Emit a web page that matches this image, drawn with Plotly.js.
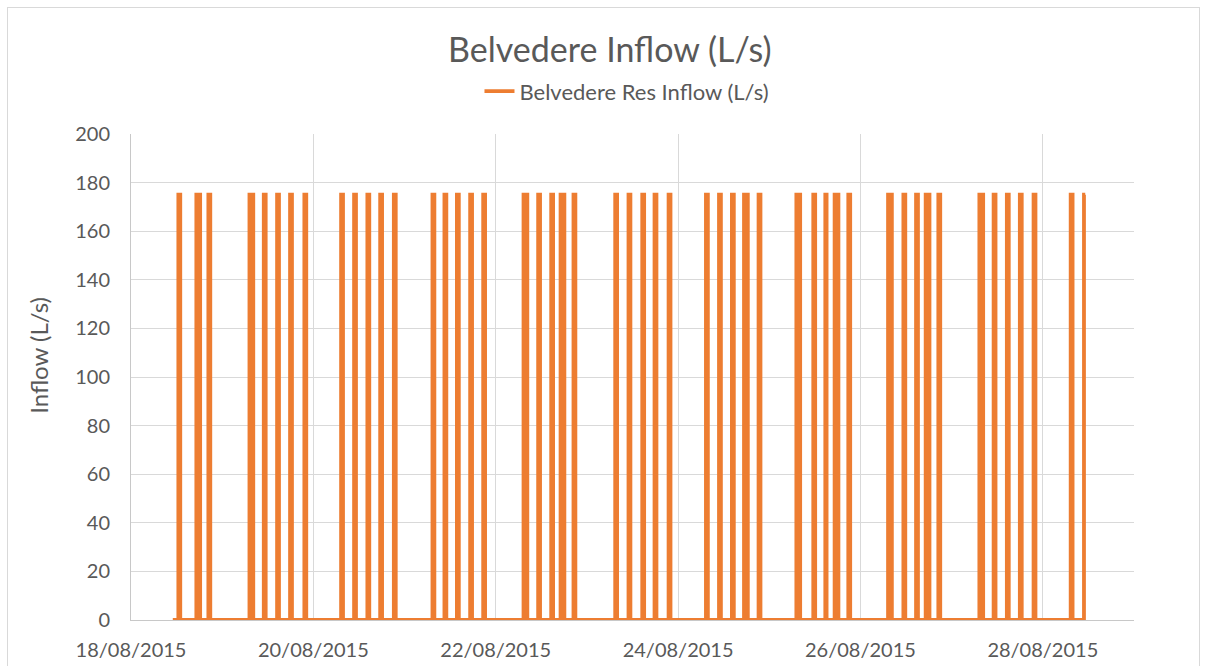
<!DOCTYPE html>
<html>
<head>
<meta charset="utf-8">
<script src="https://cdn.plot.ly/plotly-3.0.1.min.js"></script>
<style>
  html, body { margin: 0; padding: 0; background: #ffffff; overflow: hidden; }
  #chart { width: 1210px; height: 666px; }
  #frame { position: absolute; left: 7px; top: 7px; width: 1193px; height: 720px;
           border: 1px solid #d9d9d9; pointer-events: none; box-sizing: border-box; }
</style>
</head>
<body>
<div id="chart"></div>
<div id="frame"></div>
<script>
// Pump run periods feeding Belvedere reservoir (start / stop times)
const pumpOn = [
  '2015-08-18 12:28', '2015-08-18 17:12', '2015-08-18 20:22',
  '2015-08-19 07:11', '2015-08-19 10:57', '2015-08-19 14:27', '2015-08-19 17:52', '2015-08-19 21:38',
  '2015-08-20 07:18', '2015-08-20 10:43', '2015-08-20 14:13', '2015-08-20 17:35', '2015-08-20 21:11',
  '2015-08-21 07:21', '2015-08-21 10:30', '2015-08-21 13:47', '2015-08-21 17:16', '2015-08-21 20:42',
  '2015-08-22 07:19', '2015-08-22 11:10', '2015-08-22 14:36', '2015-08-22 17:04', '2015-08-22 20:28',
  '2015-08-23 07:27', '2015-08-23 10:57', '2015-08-23 14:34', '2015-08-23 17:48', '2015-08-23 21:30',
  '2015-08-24 07:20', '2015-08-24 10:46', '2015-08-24 14:10', '2015-08-24 17:21', '2015-08-24 21:11',
  '2015-08-25 07:08', '2015-08-25 11:35', '2015-08-25 14:45', '2015-08-25 17:12', '2015-08-25 20:48',
  '2015-08-26 07:16', '2015-08-26 11:18', '2015-08-26 14:38', '2015-08-26 17:10', '2015-08-26 20:30',
  '2015-08-27 07:18', '2015-08-27 11:03', '2015-08-27 14:32', '2015-08-27 17:57', '2015-08-27 21:34',
  '2015-08-28 07:20', '2015-08-28 10:50'
];
const pumpOff = [
  '2015-08-18 12:58', '2015-08-18 18:12', '2015-08-18 20:52',
  '2015-08-19 08:11', '2015-08-19 11:27', '2015-08-19 14:57', '2015-08-19 18:22', '2015-08-19 22:08',
  '2015-08-20 07:48', '2015-08-20 11:13', '2015-08-20 14:43', '2015-08-20 18:05', '2015-08-20 21:41',
  '2015-08-21 07:51', '2015-08-21 11:00', '2015-08-21 14:17', '2015-08-21 17:46', '2015-08-21 21:12',
  '2015-08-22 08:19', '2015-08-22 11:40', '2015-08-22 15:06', '2015-08-22 18:04', '2015-08-22 20:58',
  '2015-08-23 07:57', '2015-08-23 11:27', '2015-08-23 15:04', '2015-08-23 18:18', '2015-08-23 22:00',
  '2015-08-24 07:50', '2015-08-24 11:16', '2015-08-24 14:40', '2015-08-24 18:21', '2015-08-24 21:41',
  '2015-08-25 08:08', '2015-08-25 12:05', '2015-08-25 15:05', '2015-08-25 18:12', '2015-08-25 21:18',
  '2015-08-26 08:16', '2015-08-26 11:48', '2015-08-26 15:08', '2015-08-26 18:10', '2015-08-26 21:00',
  '2015-08-27 08:18', '2015-08-27 11:33', '2015-08-27 15:02', '2015-08-27 18:27', '2015-08-27 22:04',
  '2015-08-28 07:50', null
];
const runFlow = 175;      // L/s while the pump is running
const idleFlow = 0;       // L/s while stopped
const recordStart = '2015-08-18 11:00';
const recordEnd = '2015-08-28 11:10';

// Build the stepped inflow record from the run periods
const times = [recordStart];
const flows = [idleFlow];
pumpOn.forEach(function (on, i) {
  times.push(on, on);
  flows.push(idleFlow, runFlow);
  const off = pumpOff[i];
  if (off) {
    times.push(off, off);
    flows.push(runFlow, idleFlow);
  } else {
    times.push(recordEnd);
    flows.push(runFlow);
  }
});

const textColor = '#595959';
const fontFamily = 'Lato, "Open Sans", sans-serif';

const trace = {
  type: 'scatter',
  mode: 'lines',
  name: 'Belvedere Res Inflow (L/s)',
  x: times,
  y: flows,
  line: { color: '#ED7D31', width: 3.8 }
};

const layout = {
  width: 1210,
  height: 666,
  margin: { l: 131, r: 76, t: 134, b: 46 },
  paper_bgcolor: '#ffffff',
  plot_bgcolor: '#ffffff',
  font: { family: fontFamily, color: textColor },
  title: {
    text: 'Belvedere Inflow (L/s)',
    font: { size: 34, color: textColor, family: fontFamily },
    x: 0.504, xanchor: 'center', xref: 'container',
    y: 0.925, yanchor: 'middle', yref: 'container'
  },
  showlegend: true,
  legend: {
    orientation: 'h',
    x: 0.4945, xanchor: 'center',
    y: 1.088, yanchor: 'middle',
    font: { size: 22, color: textColor, family: fontFamily },
    bgcolor: 'rgba(0,0,0,0)'
  },
  xaxis: {
    type: 'date',
    range: ['2015-08-18', '2015-08-29'],
    tick0: '2015-08-18',
    dtick: 2 * 24 * 60 * 60 * 1000,
    tickformat: '%d/%m/%Y',
    showgrid: true,
    gridcolor: '#d9d9d9',
    gridwidth: 1,
    showline: true,
    linecolor: '#c8c8c8',
    linewidth: 1,
    ticks: '',
    zeroline: false,
    ticklabelstandoff: 12,
    tickfont: { size: 20, color: textColor, family: fontFamily }
  },
  yaxis: {
    range: [0, 200],
    tick0: 0,
    dtick: 20,
    showgrid: true,
    gridcolor: '#d9d9d9',
    gridwidth: 1,
    showline: true,
    linecolor: '#c8c8c8',
    linewidth: 1,
    ticks: '',
    zeroline: false,
    ticklabelstandoff: 16,
    tickfont: { size: 20, color: textColor, family: fontFamily }
  },
  annotations: [{
    // y-axis title, set slightly above the plot's middle
    text: 'Inflow (L/s)',
    textangle: -90,
    showarrow: false,
    xref: 'paper', yref: 'paper',
    x: -0.093, xanchor: 'center',
    y: 0.545, yanchor: 'middle',
    font: { size: 24, color: textColor, family: fontFamily }
  }]
};

Plotly.newPlot('chart', [trace], layout, { displayModeBar: false, staticPlot: true });
</script>
</body>
</html>
